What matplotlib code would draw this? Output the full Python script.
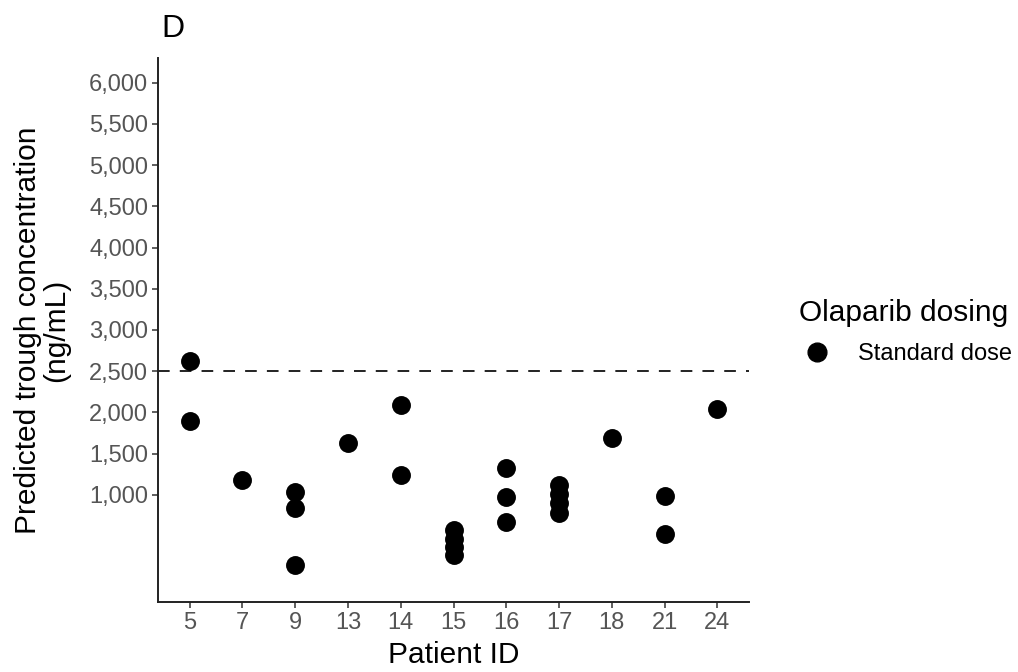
import matplotlib
matplotlib.use("Agg")
import matplotlib.pyplot as plt
from matplotlib.lines import Line2D

plt.rcParams['font.family'] = ['Liberation Sans', 'DejaVu Sans']

# patient IDs shown on the x axis (categorical)
patient_ids = ["5", "7", "9", "13", "14", "15", "16", "17", "18", "21", "24"]

# one entry per predicted trough value
point_ids = ["5", "5", "7", "9", "9", "9", "13", "14", "14",
             "15", "15", "15", "15", "16", "16", "16",
             "17", "17", "17", "17", "18", "21", "21", "24"]
trough_conc = [2620, 1890, 1185, 1030, 845, 150, 1625, 2085, 1245,
               570, 470, 370, 270, 1325, 970, 670,
               1120, 1010, 900, 780, 1690, 990, 525, 2045]

threshold = 2500
y_ticks = [1000, 1500, 2000, 2500, 3000, 3500, 4000, 4500, 5000, 5500, 6000]

fig = plt.figure(figsize=(10.18, 6.72), dpi=100)
ax = fig.add_axes([0.1552, 0.1042, 0.5806, 0.8095])

xpos = [patient_ids.index(p) for p in point_ids]
ax.scatter(xpos, trough_conc, s=185, color='black', linewidths=0, zorder=3)

ax.axhline(threshold, color='#222222', lw=1.4, linestyle=(0, (6, 5.2)), zorder=2)

ax.set_xlim(-0.6, len(patient_ids) - 0.4)
ax.set_ylim(-300, 6300)
ax.set_xticks(range(len(patient_ids)))
ax.set_xticklabels(patient_ids)
ax.set_yticks(y_ticks)
ax.set_yticklabels([f"{v:,}" for v in y_ticks])

for side in ['top', 'right']:
    ax.spines[side].set_visible(False)
for side in ['left', 'bottom']:
    ax.spines[side].set_linewidth(1.4)
    ax.spines[side].set_color('#222222')

ax.tick_params(axis='both', length=4, width=1.1, color='#333333',
               labelcolor='#555555', labelsize=17, pad=3)

ax.set_xlabel("Patient ID", fontsize=21.5, labelpad=5)
ax.set_ylabel("Predicted trough concentration\n(ng/mL)", fontsize=21.5,
              labelpad=14, linespacing=1.0)

fig.text(0.159, 0.935, "D", fontsize=23, ha='left', va='bottom')

handle = Line2D([], [], marker='o', linestyle='none', color='black',
                markersize=13.5)
leg = fig.legend([handle], ["Standard dose"], title="Olaparib dosing",
                 loc='upper left', bbox_to_anchor=(0.764, 0.586),
                 frameon=False, fontsize=17, title_fontsize=21.5,
                 alignment='left', handletextpad=1.0, handlelength=1.5,
                 labelspacing=0.65)

fig.savefig("out.png", dpi=100)
